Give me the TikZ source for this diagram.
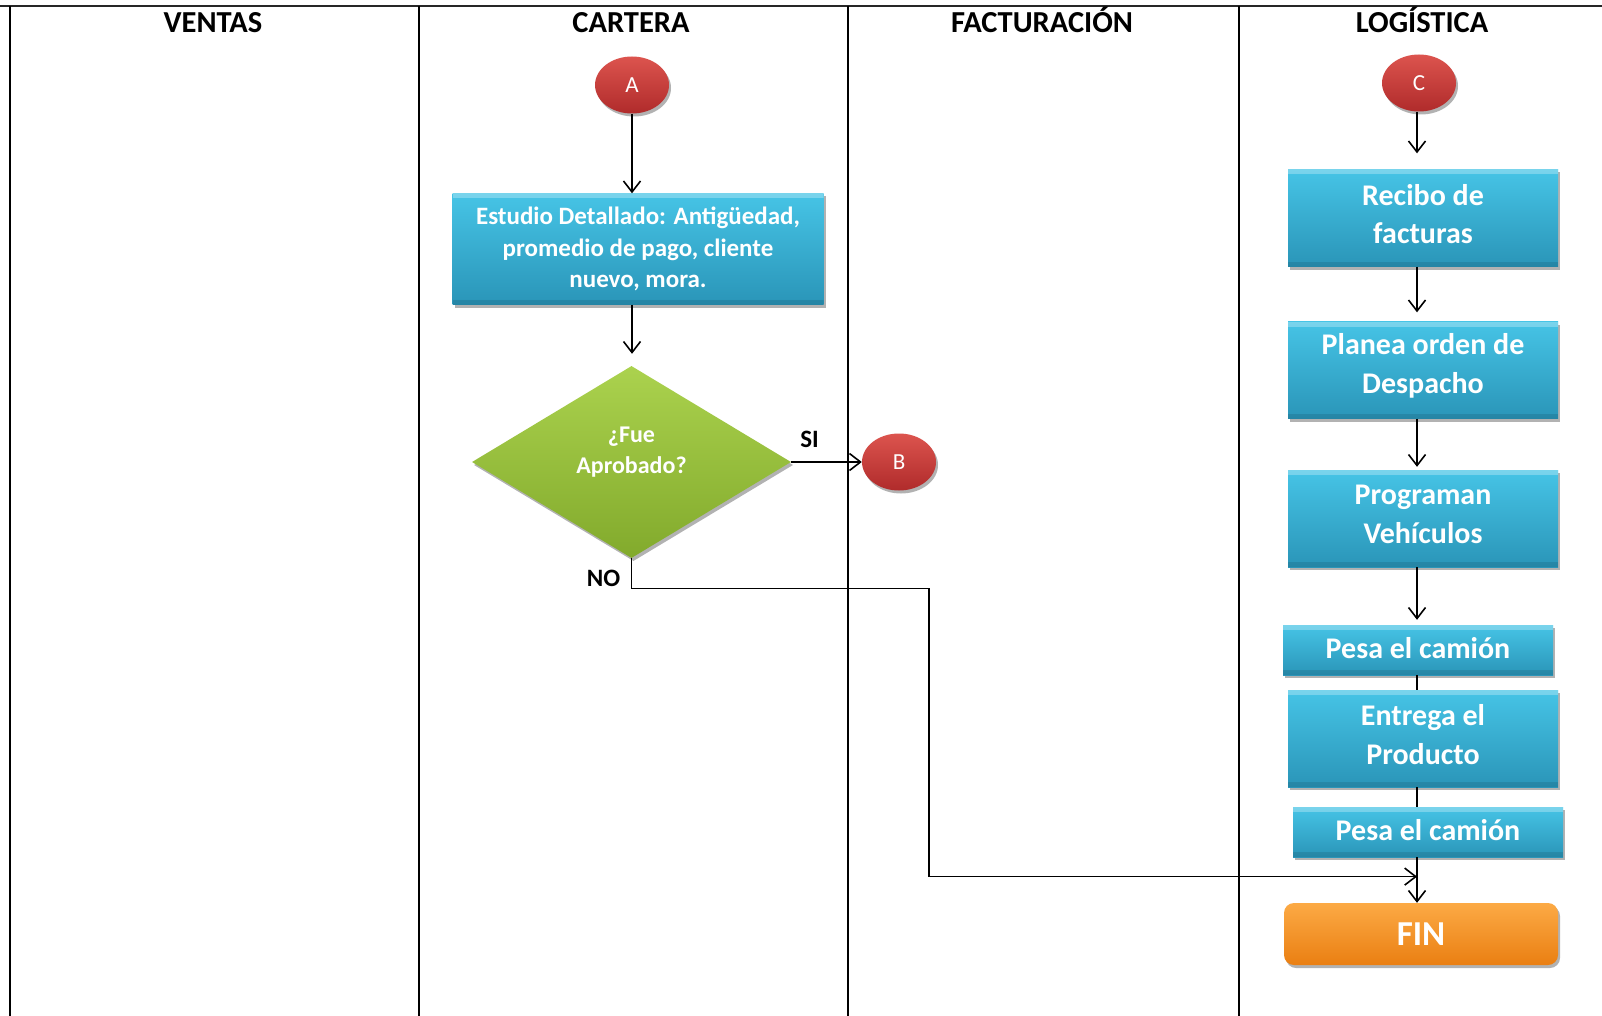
\documentclass[tikz,border=0pt]{standalone}
\usepackage{fontspec}
\setmainfont{Carlito}
\usetikzlibrary{shapes.geometric, arrows.meta, shadows, calc}

\definecolor{blueTop}{HTML}{46C4E6}
\definecolor{blueBot}{HTML}{2A95B8}
\definecolor{greenTop}{HTML}{ABD24E}
\definecolor{greenBot}{HTML}{82AA2C}
\definecolor{redTop}{HTML}{DC544E}
\definecolor{redBot}{HTML}{B02B2B}
\definecolor{orangeTop}{HTML}{FCAA45}
\definecolor{orangeBot}{HTML}{EA7F12}

\tikzset{
  lane/.style={line width=1.6pt, black},
  hdr/.style={font=\fontsize{30.5}{31}\selectfont\bfseries, anchor=base, inner sep=0pt},
  lbl/.style={font=\fontsize{25}{26}\selectfont\bfseries, inner sep=0pt},
  softshadow/.style={drop shadow={shadow xshift=2pt, shadow yshift=-3pt, opacity=0.3, fill=black}},
  bevel/.style={path picture={
      \fill[white, opacity=0.28] (path picture bounding box.north west)
        rectangle ([yshift=-5pt]path picture bounding box.north east);
      \fill[black, opacity=0.10] ([yshift=5pt]path picture bounding box.south west)
        rectangle (path picture bounding box.south east);}},
  procbox/.style={rectangle, draw=none, top color=blueTop, bottom color=blueBot,
      text=white, align=center, inner sep=0pt, softshadow, bevel,
      minimum width=270pt, minimum height=97pt},
  thinbox/.style={procbox, minimum height=50pt},
  boxtext/.style={text=white, align=center, inner sep=0pt,
      font=\fontsize{30}{38.8}\selectfont\bfseries},
  txt/.style={label={[boxtext, yshift=4pt]center:{#1}}},
  thintxt/.style={label={[boxtext, yshift=1.5pt]center:{#1}}},
  detailbox/.style={procbox, font=\fontsize{25}{31.7}\selectfont\bfseries},
  decision/.style={diamond, draw=none, top color=greenTop, bottom color=greenBot,
      inner sep=0pt, softshadow, minimum width=319pt, minimum height=192pt},
  dectext/.style={text=white, align=center, inner sep=0pt,
      font=\fontsize{24}{31.7}\selectfont\bfseries},
  connectorball/.style={ellipse, draw=none, top color=redTop, bottom color=redBot,
      text=white, inner sep=0pt, softshadow,
      minimum width=74pt, minimum height=57pt,
      font=\fontsize{23}{24}\selectfont},
  endbox/.style={rectangle, rounded corners=10pt, draw=none,
      top color=orangeTop, bottom color=orangeBot, text=white, inner sep=0pt,
      softshadow, minimum width=274pt, minimum height=62pt,
      font=\fontsize{35}{36}\selectfont\bfseries},
  connector/.style={line width=1.6pt, black},
  flow/.style={connector, -{Straight Barb[length=11pt, width=17pt, line width=1.6pt]}}
}

\begin{document}
\begin{tikzpicture}[x=1pt, y=-1pt]
  \useasboundingbox (0,0) rectangle (1602,1016);
  \fill[white] (0,0) rectangle (1602,1016);

  % swimlane frame
  \coordinate (topL) at (0,6.5);
  \coordinate (topR) at (1602,6.5);
  \draw[line width=2pt, black!85] (topL) -- (topR);
  \foreach \lx/\ln in {10/l0, 419/l1, 848/l2, 1239/l3} {
    \coordinate (\ln top) at (\lx,6.5);
    \coordinate (\ln bot) at (\lx,1016);
    \draw[lane] (\ln top) -- (\ln bot);
  }

  % lane headers
  \node[hdr] (hVentas) at (213,33) {VENTAS};
  \node[hdr] (hCartera) at (631,33) {CARTERA};
  \node[hdr] (hFact) at (1042,33) {FACTURACIÓN};
  \node[hdr] (hLog) at (1422,33) {LOGÍSTICA};

  % CARTERA lane
  \node[connectorball] (A) at (632,85) {A};
  \node[detailbox, minimum width=371pt, minimum height=111pt] (estudio) at (638,249)
    {Estudio Detallado: Antigüedad,\\promedio de pago, cliente\\nuevo, mora.};
  \node[decision, label={[dectext, yshift=10pt]center:{¿Fue\\Aprobado?}}] (dec) at (631.5,462) {};
  \node[connectorball] (B) at (899,462) {B};
  \node[lbl, anchor=base west] (si) at ([xshift=9pt, yshift=15pt]dec.east) {SI};
  \node[lbl, anchor=base east] (no) at ([xshift=-11pt, yshift=-28pt]dec.south) {NO};

  % LOGÍSTICA lane
  \coordinate (spine) at (1417,0);
  \node[connectorball] (C) at (1419,83) {C};
  \node[procbox, txt={Recibo de\\facturas}] (recibo) at (1423,218) {};
  \node[procbox, txt={Planea orden de\\Despacho}] (planea) at (1423,370) {};
  \node[procbox, txt={Programan\\Vehículos}] (programan) at (1423,518.5) {};
  \node[thinbox, thintxt={Pesa el camión}] (pesa1) at (1418,650) {};
  \node[procbox, txt={Entrega el\\Producto}] (entrega) at (1423,738.7) {};
  \node[thinbox, thintxt={Pesa el camión}] (pesa2) at (1428,832) {};
  \node[endbox] (fin) at (1421,934) {FIN};

  % flow in CARTERA
  \draw[flow] (A.south) -- (A.south |- estudio.north);
  \draw[flow, shorten >=12pt] (A.south |- estudio.south) -- (A.south |- dec.north);
  \draw[flow] (dec.east) -- (B.west);
  \coordinate (noturn) at (928.7,588.5);
  \coordinate (nodrop) at (928.7,876.6);
  \draw[flow] (dec.south) |- (noturn) -- (nodrop) -- (nodrop -| spine);

  % flow in LOGÍSTICA
  \draw[flow, shorten >=16pt] (C.south -| spine) -- (recibo.north -| spine);
  \draw[flow, shorten >=9pt] (recibo.south -| spine) -- (planea.north -| spine);
  \draw[flow, shorten >=3pt] (planea.south -| spine) -- (programan.north -| spine);
  \draw[flow, shorten >=5pt] (programan.south -| spine) -- (pesa1.north -| spine);
  \draw[connector] (pesa1.south -| spine) -- (entrega.north -| spine);
  \draw[connector] (entrega.south -| spine) -- (pesa2.north -| spine);
  \draw[flow] (pesa2.south -| spine) -- (fin.north -| spine);
\end{tikzpicture}
\end{document}
